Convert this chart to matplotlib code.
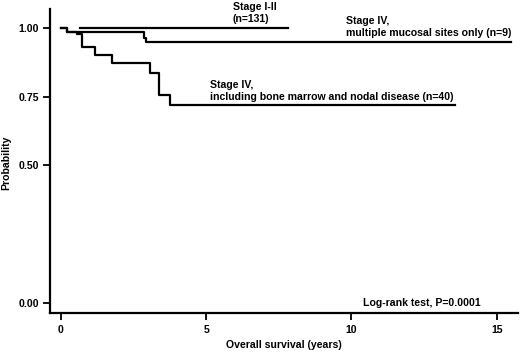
import matplotlib
matplotlib.use("Agg")
import matplotlib.pyplot as plt

plt.rcParams['font.family'] = ['Liberation Sans', 'DejaVu Sans']
plt.rcParams['font.weight'] = 'bold'

# survival curves (years, probability)
stage12_t = [0.65, 7.8]
stage12_s = [1.0, 1.0]

mucosal_t = [0, 0.2, 2.86, 2.93, 15.48]
mucosal_s = [1.0, 0.985, 0.962, 0.948, 0.948]

bone_t = [0, 0.2, 0.54, 0.71, 1.17, 1.74, 3.06, 3.37, 3.75, 13.56]
bone_s = [1.0, 0.985, 0.977, 0.931, 0.901, 0.871, 0.835, 0.756, 0.720, 0.720]

xticks = [0, 5, 10, 15]
yticks = [0.0, 0.5, 0.75, 1.0]

fig = plt.figure(figsize=(5.2, 3.52), dpi=100)
ax = fig.add_axes([0.096, 0.111, 0.9, 0.863])

lw = 1.6
ax.plot(stage12_t, stage12_s, color='black', lw=lw, drawstyle='steps-post')
ax.plot(mucosal_t, mucosal_s, color='black', lw=lw, drawstyle='steps-post')
ax.plot(bone_t, bone_s, color='black', lw=lw, drawstyle='steps-post')

ax.set_xlim(-0.38, 15.73)
ax.set_ylim(-0.036, 1.068)
ax.set_xticks(xticks)
ax.set_xticklabels([str(v) for v in xticks])
ax.set_yticks(yticks)
ax.set_yticklabels(['%.2f' % v for v in yticks])

for s in ['top', 'right']:
    ax.spines[s].set_visible(False)
for s in ['left', 'bottom']:
    ax.spines[s].set_linewidth(1.6)
ax.tick_params(axis='both', length=5, width=1.3, labelsize=7.6, pad=3)
ax.tick_params(axis='x', pad=4)

ax.set_xlabel('Overall survival (years)', fontsize=7.6, fontweight='bold', labelpad=3)
fig.text(6.5 / 520, 1 - 163 / 352, 'Probability', rotation=90, fontsize=7.6,
         fontweight='bold', ha='center', va='center')

fs = 7.6
ax.text(5.92, 1.055, 'Stage I-II\n(n=131)', fontsize=fs, fontweight='bold',
        ha='left', va='center', linespacing=1.2, clip_on=False)
ax.text(9.80, 1.004, 'Stage IV,\nmultiple mucosal sites only (n=9)', fontsize=fs,
        fontweight='bold', ha='left', va='center', linespacing=1.2)
ax.text(5.13, 0.77, 'Stage IV,\nincluding bone marrow and nodal disease (n=40)', fontsize=fs,
        fontweight='bold', ha='left', va='center', linespacing=1.2)
ax.text(10.38, 0.0, 'Log-rank test, P=0.0001', fontsize=fs, fontweight='bold',
        ha='left', va='center')

fig.savefig('out.png', dpi=100)
